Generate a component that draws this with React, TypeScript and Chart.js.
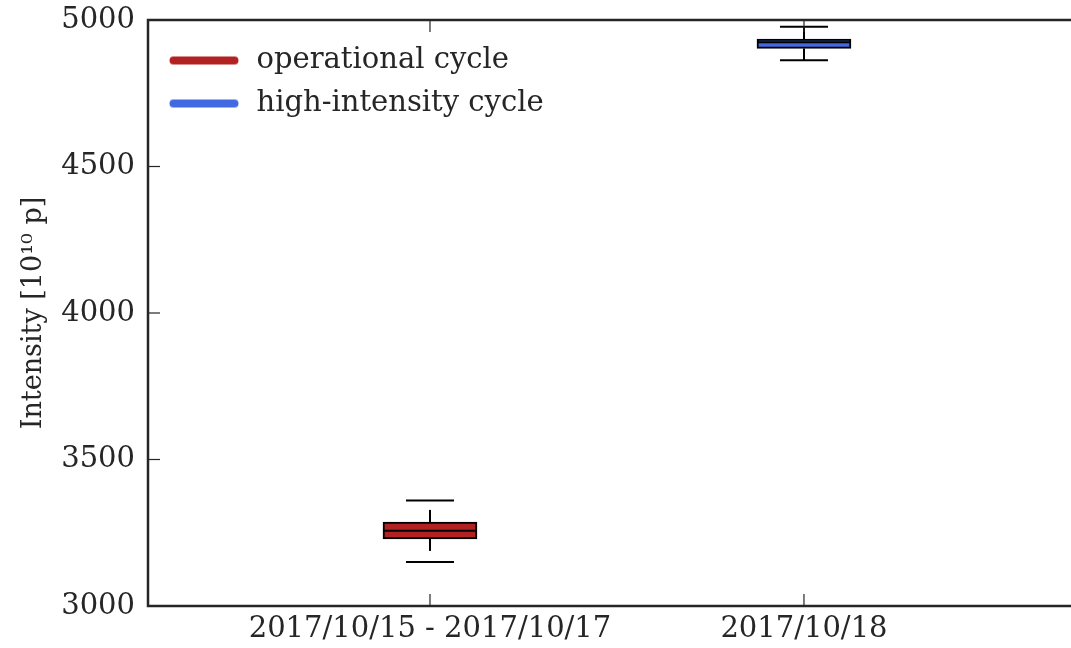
import React, { useEffect, useRef } from 'react';
import { Chart, registerables } from 'chart.js';

Chart.register(...registerables);

const categories = ['2017/10/15 - 2017/10/17', '2017/10/18'];
const positions = [1, 2];
const seriesNames = ['operational cycle', 'high-intensity cycle'];
const seriesColors = ['#b22222', '#4169e1'];
const capHigh = [3360, 4977];
const whiskerHigh = [3328, 4977];
const q3 = [3286, 4935];
const medians = [3257, 4924];
const q1 = [3229, 4903];
const whiskerLow = [3188, 4863];
const capLow = [3150, 4863];
const yTicks = [3000, 3500, 4000, 4500, 5000];

const INK = '#262626';
const FONT = 'DejaVu Serif';
const BOX_PX = 94;
const CAP_PX = 48;

function makeLegendLine(color: string) {
  const c = document.createElement('canvas');
  c.width = 80;
  c.height = 12;
  const g = c.getContext('2d')!;
  g.strokeStyle = color;
  g.lineWidth = 8;
  g.lineCap = 'round';
  g.beginPath();
  g.moveTo(11.5, 6);
  g.lineTo(72.5, 6);
  g.stroke();
  return c;
}

const extrasPlugin = {
  id: 'boxExtras',
  afterDatasetsDraw(chart: any) {
    const { ctx, scales, chartArea } = chart;
    const x = scales.x;
    const y = scales.y;
    ctx.save();
    ctx.strokeStyle = '#000';
    ctx.lineWidth = 2;
    ctx.lineCap = 'butt';
    const line = (x1: number, y1: number, x2: number, y2: number) => {
      ctx.beginPath();
      ctx.moveTo(x1, y1);
      ctx.lineTo(x2, y2);
      ctx.stroke();
    };
    positions.forEach((p, i) => {
      const cx = x.getPixelForValue(p);
      line(cx, y.getPixelForValue(q3[i]), cx, y.getPixelForValue(whiskerHigh[i]));
      line(cx, y.getPixelForValue(q1[i]), cx, y.getPixelForValue(whiskerLow[i]));
      line(cx - CAP_PX / 2, y.getPixelForValue(capHigh[i]), cx + CAP_PX / 2, y.getPixelForValue(capHigh[i]));
      line(cx - CAP_PX / 2, y.getPixelForValue(capLow[i]), cx + CAP_PX / 2, y.getPixelForValue(capLow[i]));
      line(cx - BOX_PX / 2, y.getPixelForValue(medians[i]), cx + BOX_PX / 2, y.getPixelForValue(medians[i]));
    });
    ctx.strokeStyle = INK;
    ctx.lineWidth = 1.2;
    yTicks.forEach((v) => {
      const py = y.getPixelForValue(v);
      line(chartArea.left, py, chartArea.left + 12, py);
    });
    positions.forEach((p) => {
      const px = x.getPixelForValue(p);
      line(px, chartArea.bottom, px, chartArea.bottom - 12);
      line(px, chartArea.top, px, chartArea.top + 12);
    });
    ctx.lineWidth = 2.5;
    ctx.lineCap = 'square';
    ctx.beginPath();
    ctx.moveTo(chartArea.right + 5, chartArea.top);
    ctx.lineTo(chartArea.left, chartArea.top);
    ctx.lineTo(chartArea.left, chartArea.bottom);
    ctx.lineTo(chartArea.right + 5, chartArea.bottom);
    ctx.stroke();
    ctx.restore();
  },
};

export default function App() {
  const ref = useRef<HTMLCanvasElement | null>(null);
  useEffect(() => {
    document.body.style.margin = '0';
    const canvas = ref.current!;
    const legendImgs = seriesColors.map(makeLegendLine);
    const chart = new Chart(canvas, {
      type: 'bar',
      data: {
        datasets: seriesNames.map((name, i) => ({
          label: name,
          data: [{ x: positions[i], y: [q1[i], q3[i]] }] as any,
          backgroundColor: seriesColors[i],
          borderColor: '#000',
          borderWidth: 2,
          borderSkipped: false,
          barThickness: BOX_PX,
          grouped: false,
        })),
      },
      options: {
        responsive: false,
        animation: false,
        layout: { padding: { top: 20, left: 0, right: 0, bottom: 0 } },
        font: { family: FONT },
        plugins: {
          tooltip: { enabled: false },
          legend: {
            position: 'chartArea',
            align: 'start',
            title: { display: true, text: '', font: { size: 32, lineHeight: 1 }, padding: 0 },
            labels: {
              usePointStyle: true,
              pointStyleWidth: 80,
              padding: 14,
              color: INK,
              font: { family: FONT, size: 29 },
              generateLabels: () =>
                seriesNames.map((name, i) => ({
                  text: name,
                  pointStyle: legendImgs[i] as any,
                  fillStyle: seriesColors[i],
                  strokeStyle: seriesColors[i],
                  lineWidth: 0,
                  hidden: false,
                  datasetIndex: i,
                  fontColor: INK,
                })),
            },
          },
        },
        scales: {
          x: {
            type: 'linear',
            offset: false,
            min: 0.246,
            max: 2.714,
            grid: { display: false, drawTicks: false, offset: false },
            border: { display: false },
            afterBuildTicks: (axis: any) => {
              axis.ticks = positions.map((v) => ({ value: v }));
            },
            afterFit: (axis: any) => {
              axis.height = 42;
              axis.paddingLeft = 0;
              axis.paddingRight = 0;
            },
            ticks: {
              autoSkip: false,
              maxRotation: 0,
              padding: 6,
              color: INK,
              font: { family: FONT, size: 29 },
              callback: (v: any) => {
                const idx = positions.indexOf(Number(v));
                return idx >= 0 ? categories[idx] : '';
              },
            },
          },
          y: {
            type: 'linear',
            min: 3000,
            max: 5000,
            grid: { display: false, drawTicks: false },
            border: { display: false },
            afterBuildTicks: (axis: any) => {
              axis.ticks = yTicks.map((v) => ({ value: v }));
            },
            afterFit: (axis: any) => {
              axis.width = 148;
              axis.paddingTop = 0;
              axis.paddingBottom = 0;
            },
            ticks: {
              padding: 13,
              color: INK,
              font: { family: FONT, size: 29 },
              callback: (v: any) => String(v),
            },
            title: {
              display: true,
              text: 'Intensity [10¹⁰ p]',
              color: INK,
              font: { family: FONT, size: 27 },
              padding: { top: 18, bottom: 0 },
            },
          },
        },
      },
      plugins: [extrasPlugin],
    });
    return () => chart.destroy();
  }, []);
  return (
    <div style={{ width: 1071, height: 648 }}>
      <canvas ref={ref} width={1071} height={648} style={{ display: 'block' }} />
    </div>
  );
}
